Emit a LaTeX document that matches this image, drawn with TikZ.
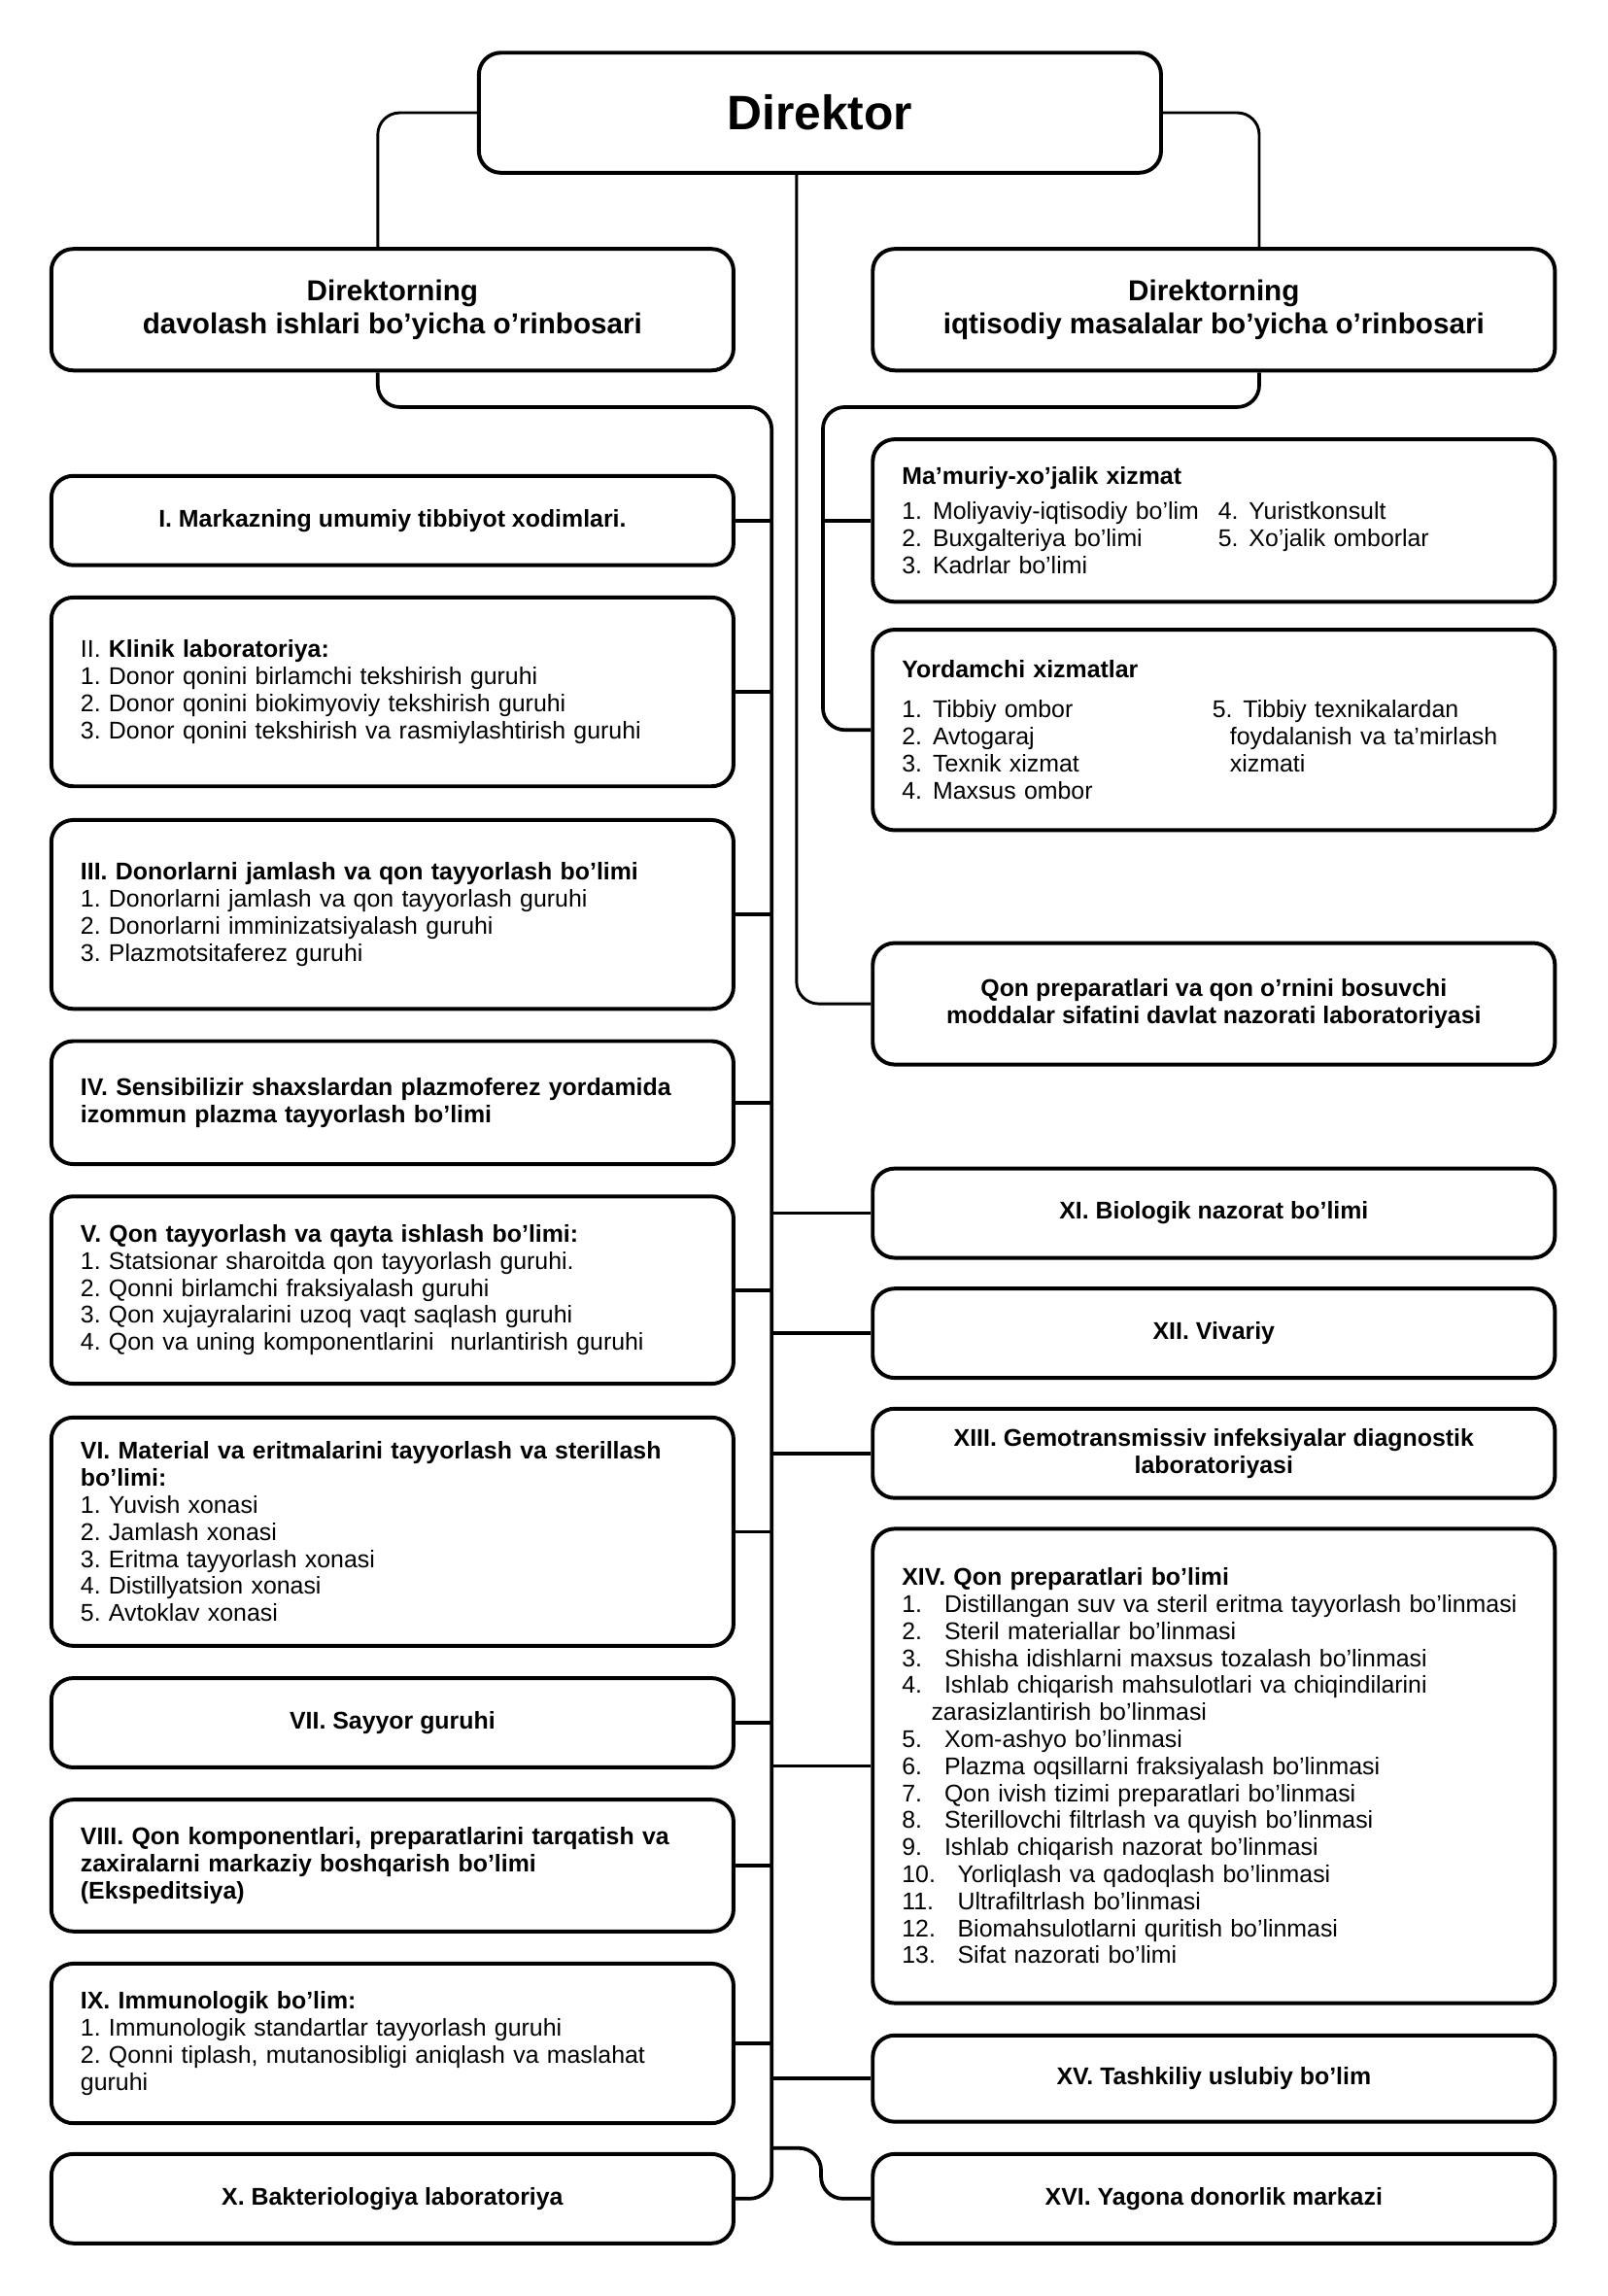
\documentclass[tikz,border=0pt]{standalone}
\usepackage{fontspec}
\setmainfont{Liberation Sans}
\usetikzlibrary{positioning,calc}
\frenchspacing
\newcommand{\numitem}[3]{\makebox[#1][l]{#2}#3}
\tikzset{
  unit/.style={
    draw,
    line width = 1.5pt,
    rounded corners = 0.3cm,
    minimum width = 9.32cm,
    inner xsep = 0.4cm,
    inner ysep = 0pt,
    align = center,
    font = \fontsize{9.4}{10.5}\selectfont\bfseries
  },
  listunit/.style={
    unit,
    align = left,
    text width = 8.52cm,
    font = \fontsize{9.4}{10.5}\selectfont
  },
  link/.style={
    line width = 1.4pt,
    rounded corners = 0.3cm
  },
  thinlink/.style={
    link,
    line width = 1.1pt
  },
}

\begin{document}
\begin{tikzpicture}[x=0.02cm, y=-0.02cm]
\useasboundingbox (0,0) rectangle (1098,1568);

% rahbariyat
\node[unit, minimum height=1.64cm, font=\fontsize{18.8}{22}\selectfont\bfseries] (dir) at (560,77) {Direktor};
\node[unit, minimum height=1.66cm, font=\fontsize{11.2}{13}\selectfont\bfseries] (dep1) at (268,211.5)
  {Direktorning\\davolash ishlari bo’yicha o’rinbosari};
\node[unit, minimum height=1.66cm, font=\fontsize{11.2}{13}\selectfont\bfseries] (dep2) at (829,211.5)
  {Direktorning\\iqtisodiy masalalar bo’yicha o’rinbosari};

% chap ustun
\node[unit, minimum height=1.22cm] (bI) at (268,355.5) {I. Markazning umumiy tibbiyot xodimlari.};
\node[listunit, minimum height=2.58cm] (bII) at (268,472.5)
  {II. \textbf{Klinik laboratoriya:}\\
   1. Donor qonini birlamchi tekshirish guruhi\\
   2. Donor qonini biokimyoviy tekshirish guruhi\\
   3. Donor qonini tekshirish va rasmiylashtirish guruhi};
\node[listunit, minimum height=2.58cm] (bIII) at (268,624.5)
  {\textbf{III. Donorlarni jamlash va qon tayyorlash bo’limi}\\
   1. Donorlarni jamlash va qon tayyorlash guruhi\\
   2. Donorlarni imminizatsiyalash guruhi\\
   3. Plazmotsitaferez guruhi};
\node[listunit, minimum height=1.68cm] (bIV) at (268,753)
  {\textbf{IV. Sensibilizir shaxslardan plazmoferez yordamida}\\
   \textbf{izommun plazma tayyorlash bo’limi}};
\node[listunit, minimum height=2.56cm] (bV) at (268,881)
  {\textbf{V. Qon tayyorlash va qayta ishlash bo’limi:}\\
   1. Statsionar sharoitda qon tayyorlash guruhi.\\
   2. Qonni birlamchi fraksiyalash guruhi\\
   3. Qon xujayralarini uzoq vaqt saqlash guruhi\\
   4. Qon va uning komponentlarini\ \ nurlantirish guruhi};
\node[listunit, minimum height=3.12cm] (bVI) at (268,1046)
  {\textbf{VI. Material va eritmalarini tayyorlash va sterillash}\\
   \textbf{bo’limi:}\\
   1. Yuvish xonasi\\
   2. Jamlash xonasi\\
   3. Eritma tayyorlash xonasi\\
   4. Distillyatsion xonasi\\
   5. Avtoklav xonasi};
\node[unit, minimum height=1.22cm] (bVII) at (268,1176.5) {VII. Sayyor guruhi};
\node[listunit, minimum height=1.8cm] (bVIII) at (268,1274)
  {\textbf{VIII. Qon komponentlari, preparatlarini tarqatish va}\\
   \textbf{zaxiralarni markaziy boshqarish bo’limi}\\
   \textbf{(Ekspeditsiya)}};
\node[listunit, minimum height=2.18cm] (bIX) at (268,1395.5)
  {\textbf{IX. Immunologik bo’lim:}\\
   1. Immunologik standartlar tayyorlash guruhi\\
   2. Qonni tiplash, mutanosibligi aniqlash va maslahat\\
   guruhi};
\node[unit, minimum height=1.22cm] (bX) at (268,1501.5) {X. Bakteriologiya laboratoriya};

% o'ng ustun
\node[listunit, minimum height=2.22cm] (mam) at (829,355.5)
  {\textbf{Ma’muriy-xo’jalik xizmat}\\[3pt]
   \makebox[4.32cm][l]{\numitem{0.42cm}{1.}{Moliyaviy-iqtisodiy bo’lim}}\numitem{0.42cm}{4.}{Yuristkonsult}\\
   \makebox[4.32cm][l]{\numitem{0.42cm}{2.}{Buxgalteriya bo’limi}}\numitem{0.42cm}{5.}{Xo’jalik omborlar}\\
   \numitem{0.42cm}{3.}{Kadrlar bo’limi}};
\node[listunit, minimum height=2.74cm] (yord) at (829,498.5)
  {\textbf{Yordamchi xizmatlar}\\[5pt]
   \makebox[4.24cm][l]{\numitem{0.42cm}{1.}{Tibbiy ombor}}\numitem{0.42cm}{5.}{Tibbiy texnikalardan}\\
   \makebox[4.24cm][l]{\numitem{0.42cm}{2.}{Avtogaraj}}\hspace*{0.24cm}foydalanish va ta’mirlash\\
   \makebox[4.24cm][l]{\numitem{0.42cm}{3.}{Texnik xizmat}}\hspace*{0.24cm}xizmati\\
   \numitem{0.42cm}{4.}{Maxsus ombor}};
\node[unit, minimum height=1.66cm] (qlab) at (829,685.5)
  {Qon preparatlari va qon o’rnini bosuvchi\\moddalar sifatini davlat nazorati laboratoriyasi};
\node[unit, minimum height=1.22cm] (b11) at (829,828.5) {XI. Biologik nazorat bo’limi};
\node[unit, minimum height=1.22cm] (b12) at (829,910.5) {XII. Vivariy};
\node[unit, minimum height=1.22cm] (b13) at (829,992.5)
  {XIII. Gemotransmissiv infeksiyalar diagnostik\\laboratoriyasi};
\node[listunit, minimum height=6.48cm] (b14) at (829,1206)
  {\textbf{XIV. Qon preparatlari bo’limi}\\
   \numitem{0.58cm}{1.}{Distillangan suv va steril eritma tayyorlash bo’linmasi}\\
   \numitem{0.58cm}{2.}{Steril materiallar bo’linmasi}\\
   \numitem{0.58cm}{3.}{Shisha idishlarni maxsus tozalash bo’linmasi}\\
   \numitem{0.58cm}{4.}{Ishlab chiqarish mahsulotlari va chiqindilarini}\\
   \hspace*{0.4cm}zarasizlantirish bo’linmasi\\
   \numitem{0.58cm}{5.}{Xom-ashyo bo’linmasi}\\
   \numitem{0.58cm}{6.}{Plazma oqsillarni fraksiyalash bo’linmasi}\\
   \numitem{0.58cm}{7.}{Qon ivish tizimi preparatlari bo’linmasi}\\
   \numitem{0.58cm}{8.}{Sterillovchi filtrlash va quyish bo’linmasi}\\
   \numitem{0.58cm}{9.}{Ishlab chiqarish nazorat bo’linmasi}\\
   \numitem{0.76cm}{10.}{Yorliqlash va qadoqlash bo’linmasi}\\
   \numitem{0.76cm}{11.}{Ultrafiltrlash bo’linmasi}\\
   \numitem{0.76cm}{12.}{Biomahsulotlarni quritish bo’linmasi}\\
   \numitem{0.76cm}{13.}{Sifat nazorati bo’limi}};
\node[unit, minimum height=1.18cm] (b15) at (829,1419.5) {XV. Tashkiliy uslubiy bo’lim};
\node[unit, minimum height=1.22cm] (b16) at (829,1501.5) {XVI. Yagona donorlik markazi};

% ulanishlar
\coordinate (lspine) at (527,278);
\coordinate (rspine) at (562,278);
\coordinate (fork) at (527,1467);

\draw[thinlink] (dir.west) -| ([xshift=-0.2cm]dep1.north);
\draw[thinlink] (dir.east) -| ([xshift=0.62cm]dep2.north);
\draw[thinlink] ([xshift=-0.32cm]dir.south) |- (qlab.west);

\draw[link] ([xshift=-0.2cm]dep1.south) |- (lspine) |- (bX.east);
\draw[link] ([xshift=0.62cm]dep2.south) |- (rspine) |- (yord.west);
\draw[link] (mam.west) -- (mam.west -| rspine);

\foreach \b in {bI,bII,bIII,bIV,bV,bVI,bVII,bVIII,bIX}
  \draw[link] (\b.east) -- (\b.east -| lspine);
\foreach \b in {b11,b12,b13,b14,b15}
  \draw[link] (lspine |- \b.west) -- (\b.west);
\draw[link] (fork) -| ([xshift=-0.68cm]b16.west) -- (b16.west);
\end{tikzpicture}
\end{document}
